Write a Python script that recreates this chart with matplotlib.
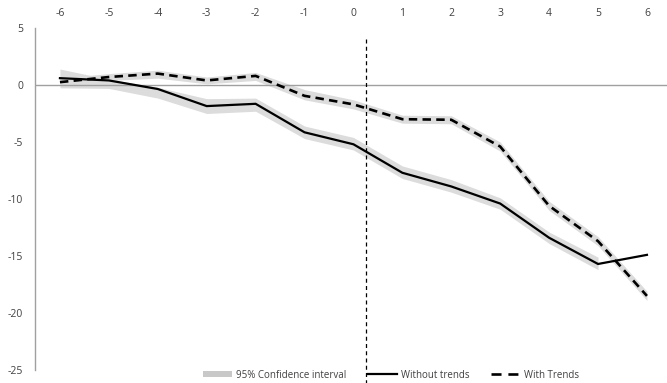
import matplotlib
matplotlib.use("Agg")
import matplotlib.pyplot as plt
import numpy as np
from matplotlib.patches import Patch
from matplotlib.lines import Line2D

plt.rcParams['font.family'] = ['Open Sans', 'DejaVu Sans']

periods = [-6, -5, -4, -3, -2, -1, 0, 1, 2, 3, 4, 5, 6]
without_trends = [0.6, 0.4, -0.35, -1.85, -1.65, -4.15, -5.2, -7.7, -8.9, -10.4, -13.4, -15.7, -14.9]
without_lo = [-0.25, -0.3, -1.15, -2.5, -2.3, -4.7, -5.7, -8.2, -9.4, -10.9, -13.9, -16.2, np.nan]
without_hi = [1.4, 0.5, -0.2, -1.2, -1.15, -3.6, -4.6, -7.1, -8.3, -9.9, -12.9, -15.1, np.nan]
with_trends = [0.25, 0.7, 1.0, 0.4, 0.8, -0.95, -1.7, -3.0, -3.05, -5.4, -10.6, -13.7, -18.5]
with_lo = [0.0, 0.4, 0.6, 0.1, 0.4, -1.3, -2.1, -3.35, -3.4, -5.8, -11.0, -14.1, -18.9]
with_hi = [0.6, 1.0, 1.3, 0.7, 1.1, -0.4, -1.3, -2.65, -2.7, -5.0, -10.2, -13.3, -18.1]
event_x = 0.25
y_ticks = [5, 0, -5, -10, -15, -20, -25]

fig = plt.figure(figsize=(6.67, 3.83), dpi=100)
ax = fig.add_axes([35/667, 13/383, 632/667, 342/383])

band_color = '#dcdcdc'
ax.fill_between(periods, without_lo, without_hi, color=band_color, lw=0, zorder=1)
ax.fill_between(periods, with_lo, with_hi, color=band_color, lw=0, zorder=1)
ax.axhline(0, color='#a0a0a0', lw=1.0, zorder=2)
ax.plot(periods, without_trends, color='black', lw=1.6, zorder=3, solid_joinstyle='miter')
ax.plot(periods, with_trends, color='black', lw=1.9, dashes=(3.2, 2.0), zorder=3)
ax.plot([event_x, event_x], [4.0, -26.5], color='black', lw=0.9, dashes=(3.2, 2.6),
        clip_on=False, zorder=4)

ax.set_xlim(-6.51, 6.41)
ax.set_ylim(-25, 5)
ax.set_xticks(periods)
ax.set_xticklabels([str(p) for p in periods])
ax.set_yticks(y_ticks)
ax.set_yticklabels([str(t) for t in y_ticks])
ax.xaxis.tick_top()
ax.tick_params(axis='x', length=0, pad=6.5, labelsize=7.5, colors='#404040')
ax.tick_params(axis='y', length=0, pad=8.5, labelsize=7.5, colors='#404040')
for s in ['top', 'right', 'bottom']:
    ax.spines[s].set_visible(False)
ax.spines['left'].set_color('#a0a0a0')
ax.spines['left'].set_linewidth(1.0)

handles = [Patch(facecolor='#c8c8c8', edgecolor='none'),
           Line2D([0], [0], color='black', lw=1.6),
           Line2D([0], [0], color='black', lw=1.9, dashes=(3.8, 2.6))]
labels = ['95% Confidence interval', 'Without trends', 'With Trends']
fig.legend(handles, labels, loc='center', bbox_to_anchor=(391/667, 1 - 375/383), ncol=3,
           frameon=False, fontsize=7, handlelength=3.0, handleheight=0.6, columnspacing=2.2,
           handletextpad=0.4, labelcolor='#404040')

fig.savefig('out.png', dpi=100)
